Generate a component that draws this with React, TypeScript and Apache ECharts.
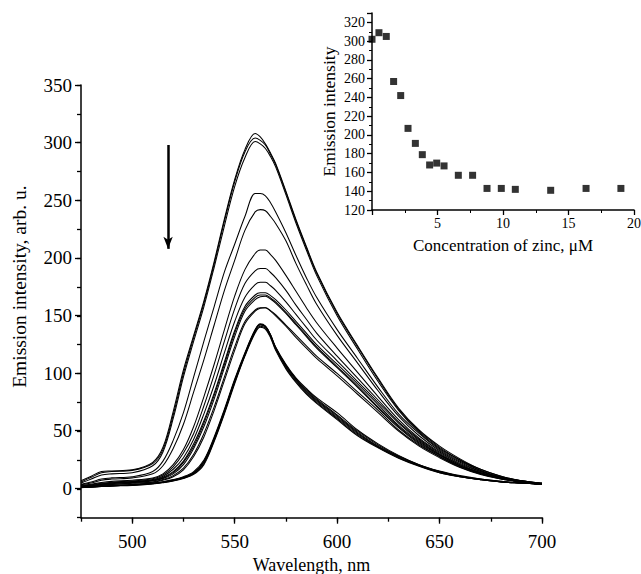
import React, { useEffect, useRef } from "react";
import * as echarts from "echarts";

// ---- Main spectra (emission intensity, arb. u. vs wavelength, nm) ----
const WAVELENGTH = [475, 480, 485, 490, 500, 510, 515, 520, 525, 530, 535, 540, 545, 550, 555, 560, 562.5, 565, 567.5, 570, 575, 580, 585, 590, 600, 610, 620, 630, 640, 650, 660, 670, 680, 690, 700];

const CURVE_A1 = [7, 11, 15, 15.5, 16.5, 23, 36, 67, 103, 133, 163, 197, 234, 268, 294, 308, 305, 299, 291, 282, 258, 233, 210, 188, 153, 124, 96, 70, 51, 37, 26, 17, 11, 7, 5];
const CURVE_A2 = [6, 10, 14, 15, 16, 22, 34, 64, 100, 131, 161, 195, 232, 266, 292, 304, 302, 298, 290, 281, 257, 232, 209, 187, 152, 123, 95, 69, 50, 36, 25, 17, 11, 7, 5];
const CURVE_A3 = [5, 8.5, 12, 13, 14, 20, 32, 61, 97, 128, 158, 192, 228, 262, 287, 301, 299, 295, 288, 279, 255, 230, 207, 185, 150, 121, 93, 68, 49, 35, 25, 16, 10, 7, 4.5];
const CURVE_B = [4, 6, 8.5, 9.5, 10.5, 15, 24, 42, 66, 97, 128, 158, 188, 212, 236, 256, 256, 254, 248, 240, 222, 202, 183, 166, 138, 113, 88, 65, 48, 34, 24, 16, 10, 7, 4.5];
const CURVE_C = [3.5, 5, 7.5, 8.5, 9.5, 13, 20, 35, 56, 84, 112, 142, 172, 198, 224, 240, 242, 241, 236, 230, 215, 195, 177, 160, 133, 109, 85, 63, 46, 33, 23, 15, 10, 6.5, 4.5];
const CURVE_D = [3, 4, 5.5, 6.5, 7.5, 9.5, 13, 21, 34, 54, 80, 108, 138, 167, 190, 204, 207, 207, 203, 198, 185, 171, 157, 144, 122, 101, 80, 60, 44, 32, 22, 15, 10, 6.5, 4];
const CURVE_E = [2.5, 3.5, 4.8, 5.8, 6.8, 8.8, 12, 19, 31, 48, 72, 99, 128, 156, 178, 189, 191, 191, 187.5, 183, 172, 159, 147, 135, 115, 96, 77, 58, 43, 31, 21, 14, 9.5, 6, 4];
const CURVE_F = [2.3, 3, 4.3, 5.3, 6.3, 8, 11, 17, 27, 43, 65, 90, 118, 145, 166, 177, 179, 179, 176, 172, 162, 151, 140, 129, 111, 93, 75, 57, 42, 30, 21, 14, 9, 6, 4];
const CURVE_G = [2, 2.7, 3.8, 4.8, 5.8, 7.2, 9.5, 14, 23, 37, 57, 81, 108, 135, 156, 166, 168, 168, 165.5, 162, 153, 143, 133, 123, 106, 89, 71, 54, 40, 29, 20, 13.5, 9, 6, 4];
const CURVE_H = [2.1, 2.8, 4, 5, 6, 7.5, 10, 15, 24, 39, 59, 83, 110, 137, 158, 168, 170, 170, 167.5, 164, 155, 145, 135, 125, 108, 91, 73, 55, 41, 29.5, 20, 14, 9, 6, 4];
const CURVE_I = [1.9, 2.5, 3.5, 4.5, 5.5, 6.8, 9, 13, 21, 35, 54, 78, 105, 132, 154, 164, 166.5, 167, 164.5, 161, 152, 142, 132, 122, 105, 88, 70, 53, 39, 28, 19.5, 13, 9, 6, 4];
const CURVE_J = [1.8, 2.4, 3.2, 4, 5, 6, 8, 11.5, 18, 30, 48, 71, 97, 123, 145, 155, 157, 157, 154.5, 151, 142, 133, 124, 115, 100, 84, 68, 51, 38, 28, 19, 13, 8.5, 6, 4];
const CURVE_K = [1.7, 2.2, 3, 3.8, 4.8, 5.8, 7.5, 10.5, 16.5, 28, 45, 68, 94, 120, 143, 154, 156.5, 157, 154, 150, 141, 131, 122, 113, 98, 82, 66, 50, 37, 27, 18.5, 12.5, 8.5, 6, 4];
const CURVE_L1 = [1.5, 2, 2.5, 3, 3.8, 5, 6.2, 8, 10.5, 15, 25, 45, 69, 95, 118, 138, 143, 141, 133.5, 123, 108, 96, 87, 79, 66, 51, 39, 29, 21, 15.5, 11.5, 8.5, 6.5, 5, 4];
const CURVE_L2 = [1.3, 1.8, 2.3, 2.8, 3.5, 4.8, 6, 7.6, 10, 14, 24, 44, 68, 94, 117, 137.5, 142.5, 140.5, 133, 122, 107, 95, 86, 78, 64, 50, 38, 28.5, 21, 15, 11, 8.5, 6.5, 5, 4];
const CURVE_L3 = [1.2, 1.6, 2.1, 2.6, 3.3, 4.6, 5.7, 7.2, 9.5, 13.5, 23, 43, 67, 93, 116, 136, 141, 139.5, 132, 121, 105, 93, 83, 75, 61, 47, 36, 27, 20, 14, 10.5, 8, 6, 5, 4];
const CURVE_L4 = [1, 1.5, 2, 2.5, 3, 4.3, 5.4, 6.8, 9, 12.5, 21, 41, 65, 91, 115, 135, 140, 138.5, 131, 120, 104, 92, 82, 74, 60, 46, 35.5, 26.5, 19.5, 14, 10.5, 8, 6, 5, 4];
const CURVE_L5 = [1.1, 1.6, 2.1, 2.6, 3.2, 4.5, 5.6, 7, 9.3, 13, 22, 42, 66, 92, 116, 137, 142, 140.5, 133, 122, 106, 94, 84, 76, 62, 48, 36.5, 27.5, 20, 14.5, 10.5, 8, 6, 5, 4];
const CURVE_L6 = [1.2, 1.7, 2.2, 2.7, 3.4, 4.7, 5.8, 7.4, 9.8, 13.8, 23.5, 43.5, 67.5, 93.5, 117, 137.5, 142.5, 141, 133.5, 122.5, 107, 95, 85, 77, 63, 49, 37, 28, 20.5, 15, 11, 8.2, 6.2, 5, 4];

const CURVES = [CURVE_A1, CURVE_A2, CURVE_A3, CURVE_B, CURVE_C, CURVE_D, CURVE_E, CURVE_F, CURVE_G, CURVE_H, CURVE_I, CURVE_J, CURVE_K, CURVE_L1, CURVE_L2, CURVE_L3, CURVE_L4, CURVE_L5, CURVE_L6];

// Arrow (direction of decreasing intensity), in data units
const ARROW_X = 517.5;
const ARROW_FROM = 298;
const ARROW_TO = 208;

// ---- Inset: emission intensity vs zinc concentration ----
const ZINC_CONC = [0, 0.53, 1.09, 1.65, 2.19, 2.75, 3.31, 3.84, 4.4, 4.94, 5.5, 6.59, 7.68, 8.78, 9.87, 10.94, 13.64, 16.34, 19.0];
const INSET_INTENSITY = [302, 309, 305, 257, 242, 207, 191, 179, 168, 170, 167, 157, 157, 143, 143, 142, 141, 143, 143];

const FONT = "'Liberation Serif', 'Times New Roman', serif";
const BLACK = "#000";

export default function App() {
  const ref = useRef<HTMLDivElement>(null);

  useEffect(() => {
    if (!ref.current) return;
    const chart = echarts.init(ref.current, undefined, { renderer: "svg" });

    const axisLine = { show: true, onZero: false, lineStyle: { color: BLACK, width: 1.5 } };
    const noLine = { show: false, onZero: false };
    const tickStyle = { color: BLACK, width: 1.3 };

    const spectra = CURVES.map((c, idx) => ({
      type: "line",
      xAxisIndex: 0,
      yAxisIndex: 0,
      data: WAVELENGTH.map((w, i) => [w, c[i]]),
      symbol: "none",
      showSymbol: false,
      smooth: 0.35,
      silent: true,
      lineStyle: { color: BLACK, width: 1.05 },
      ...(idx === 0
        ? {
            markLine: {
              silent: true,
              symbol: ["none", "arrow"],
              symbolSize: [7, 12],
              label: { show: false },
              lineStyle: { color: BLACK, width: 2.5, type: "solid" },
              data: [[{ coord: [ARROW_X, ARROW_FROM] }, { coord: [ARROW_X, ARROW_TO] }]],
            },
          }
        : {}),
    }));

    const gridBase = { containLabel: false, outerBoundsMode: "none" };

    const option: any = {
      animation: false,
      backgroundColor: "#fff",
      grid: [
        { ...gridBase, left: 81, right: 99, top: 85, bottom: 56.3 },
        { ...gridBase, left: 132.2, right: 99, top: 85, bottom: 56.3 },
        { ...gridBase, left: 81, right: 99, top: 85, bottom: 85.7 },
        { ...gridBase, left: 372, right: 7, top: 13, bottom: 364 },
      ],
      xAxis: [
        {
          gridIndex: 0,
          type: "value",
          min: 475,
          max: 700,
          interval: 25,
          axisLine,
          axisTick: { show: true, length: 4, lineStyle: tickStyle },
          axisLabel: { show: false },
          splitLine: { show: false },
          name: "Wavelength, nm",
          nameLocation: "middle",
          nameGap: 38,
          nameTextStyle: { fontFamily: FONT, fontSize: 18, color: BLACK },
        },
        {
          gridIndex: 1,
          type: "value",
          min: 500,
          max: 700,
          interval: 50,
          axisLine: noLine,
          axisTick: { show: true, length: 6, lineStyle: tickStyle },
          axisLabel: { fontFamily: FONT, fontSize: 19, color: BLACK, margin: 14 },
          splitLine: { show: false },
        },
        { gridIndex: 2, type: "value", min: 475, max: 700, show: false },
        {
          gridIndex: 3,
          type: "value",
          min: 0,
          max: 20,
          interval: 5,
          axisLine,
          axisTick: { show: true, length: 5, lineStyle: tickStyle },
          minorTick: { show: true, splitNumber: 2, length: 3, lineStyle: { color: BLACK, width: 1 } },
          axisLabel: {
            fontFamily: FONT,
            fontSize: 14,
            color: BLACK,
            margin: 6,
            formatter: (v: number) => (v === 0 ? "" : String(v)),
          },
          splitLine: { show: false },
          name: "Concentration of zinc, \u03BCM",
          nameLocation: "middle",
          nameGap: 27,
          nameTextStyle: { fontFamily: FONT, fontSize: 17, color: BLACK },
        },
      ],
      yAxis: [
        {
          gridIndex: 0,
          type: "value",
          min: -25,
          max: 350,
          interval: 25,
          axisLine,
          axisTick: { show: true, length: 4, lineStyle: tickStyle },
          axisLabel: { show: false },
          splitLine: { show: false },
        },
        { gridIndex: 1, type: "value", min: -25, max: 350, show: false },
        {
          gridIndex: 2,
          type: "value",
          min: 0,
          max: 350,
          interval: 50,
          axisLine: noLine,
          axisTick: { show: true, length: 6, lineStyle: tickStyle },
          axisLabel: { fontFamily: FONT, fontSize: 19, color: BLACK, margin: 9 },
          splitLine: { show: false },
          name: "Emission intensity, arb. u.",
          nameLocation: "middle",
          nameGap: 52,
          nameTextStyle: { fontFamily: FONT, fontSize: 19.5, color: BLACK },
        },
        {
          gridIndex: 3,
          type: "value",
          min: 120,
          max: 330,
          interval: 20,
          axisLine,
          axisTick: { show: true, length: 5, lineStyle: tickStyle },
          minorTick: { show: true, splitNumber: 2, length: 3, lineStyle: { color: BLACK, width: 1 } },
          axisLabel: { fontFamily: FONT, fontSize: 14, color: BLACK, margin: 7 },
          splitLine: { show: false },
          name: "Emission intensity",
          nameLocation: "middle",
          nameGap: 34,
          nameTextStyle: { fontFamily: FONT, fontSize: 17.5, color: BLACK },
        },
      ],
      series: [
        ...spectra,
        {
          type: "scatter",
          xAxisIndex: 3,
          yAxisIndex: 3,
          symbol: "rect",
          symbolSize: 7,
          clip: false,
          silent: true,
          itemStyle: { color: BLACK },
          data: ZINC_CONC.map((c, i) => [c, INSET_INTENSITY[i]]),
        },
      ],
    };

    chart.setOption(option);
    return () => chart.dispose();
  }, []);

  return (
    <div
      ref={ref}
      style={{ position: "absolute", left: 0, top: 0, width: 641, height: 574, background: "#fff" }}
    />
  );
}
